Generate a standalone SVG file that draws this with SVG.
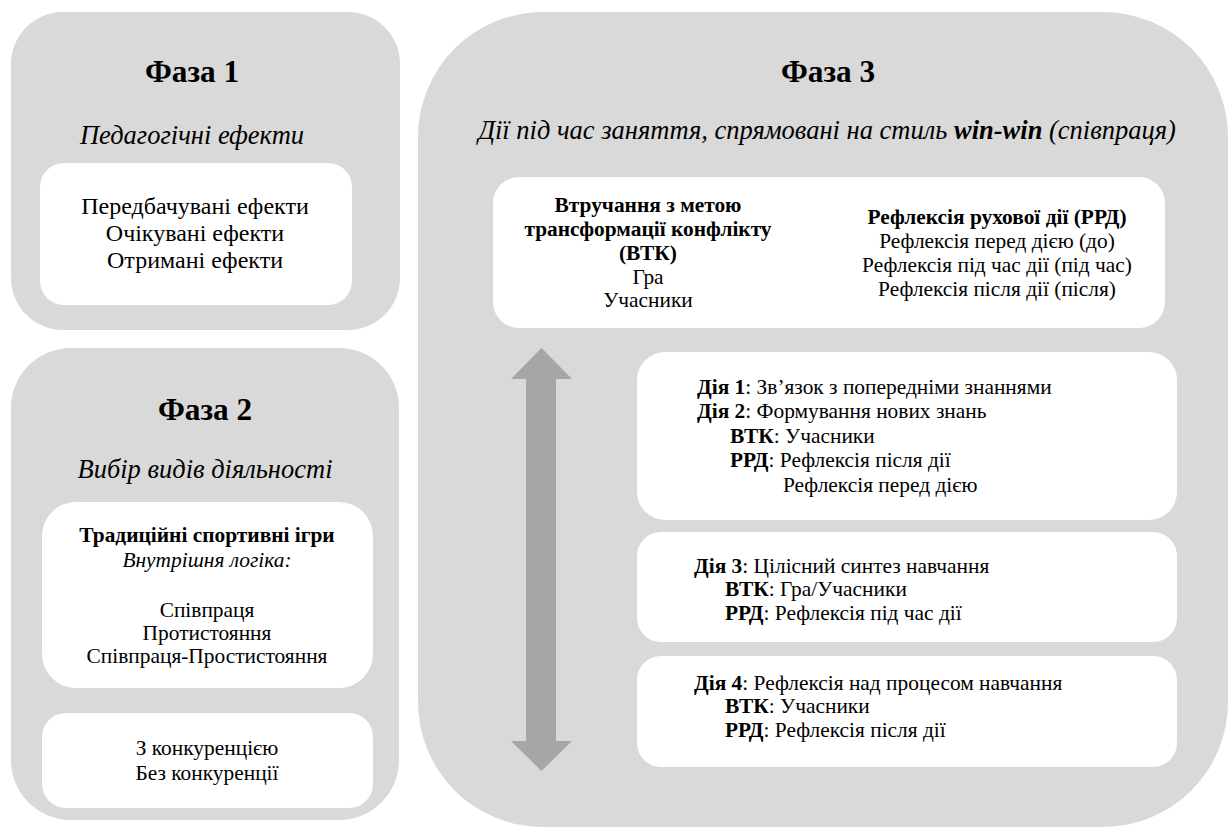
<svg xmlns="http://www.w3.org/2000/svg" width="1229" height="829" viewBox="0 0 1229 829">
<defs>
<style>
.panel{fill:#d9d9d9}
.box{fill:#ffffff}
text{fill:#000}
.title{font-size:31.3px;font-weight:bold;text-anchor:middle}
.sub{font-size:26.5px;font-style:italic;text-anchor:middle}
.c{text-anchor:middle}
.t1{font-size:24px}
.t2{font-size:21.4px}
.t3{font-size:21.4px}
.b{font-weight:bold}
.i{font-style:italic}
.arrow{fill:#a6a6a6}
</style>
</defs>
<rect width="1229" height="829" fill="#ffffff"/>
<g font-family="'Liberation Serif', 'Times New Roman', serif">
<g id="phase1">
<rect class="panel" x="11" y="12" width="389" height="318" rx="52"/>
<text class="title" x="192" y="82">Фаза 1</text>
<text class="sub" x="192" y="144">Педагогічні ефекти</text>
<g id="phase1-effects">
<rect class="box" x="40" y="163" width="312" height="142" rx="24"/>
<text class="c t1" x="195" y="214">Передбачувані ефекти</text>
<text class="c t1" x="195" y="241">Очікувані ефекти</text>
<text class="c t1" x="195" y="268">Отримані ефекти</text>
</g>
</g>

<g id="phase2">
<rect class="panel" x="11" y="348" width="388" height="472" rx="60"/>
<text class="title" x="205" y="420">Фаза 2</text>
<text class="sub" x="205" y="478">Вибір видів діяльності</text>
<g id="phase2-games">
<rect class="box" x="42" y="502" width="331" height="186" rx="34"/>
<text class="c t2 b" x="207" y="542">Традиційні спортивні ігри</text>
<text class="c t2 i" x="207" y="567">Внутрішня логіка:</text>
<text class="c t2" x="207" y="617">Співпраця</text>
<text class="c t2" x="207" y="640">Протистояння</text>
<text class="c t2" x="207" y="663">Співпраця-Простистояння</text>
</g>
<g id="phase2-competition">
<rect class="box" x="42" y="713" width="331" height="95" rx="24"/>
<text class="c t2" x="207" y="755">З конкуренцією</text>
<text class="c t2" x="207" y="780">Без конкуренції</text>
</g>
</g>

<g id="phase3">
<rect class="panel" x="418" y="12" width="810" height="815" rx="125"/>
<text class="title" x="828" y="82">Фаза 3</text>
<text class="sub" x="827" y="139">Дії під час заняття, спрямовані на стиль <tspan font-weight="bold">win-win</tspan> (співпраця)</text>

<g id="phase3-header">
<rect class="box" x="493" y="177" width="672" height="151" rx="26"/>
<text class="c t3 b" x="648" y="212">Втручання з метою</text>
<text class="c t3 b" x="648" y="236">трансформації конфлікту</text>
<text class="c t3 b" x="648" y="260">(ВТК)</text>
<text class="c t3" x="648" y="284">Гра</text>
<text class="c t3" x="648" y="307">Учасники</text>
<text class="c t3 b" x="997" y="224">Рефлексія рухової дії (РРД)</text>
<text class="c t3" x="997" y="248">Рефлексія перед дією (до)</text>
<text class="c t3" x="997" y="272">Рефлексія під час дії (під час)</text>
<text class="c t3" x="997" y="296">Рефлексія після дії (після)</text>
</g>

<g id="action12">
<rect class="box" x="637" y="352" width="540" height="168" rx="28"/>
<text class="t3" x="697" y="394"><tspan class="b">Дія 1</tspan>: Зв’язок з попередніми знаннями</text>
<text class="t3" x="697" y="418"><tspan class="b">Дія 2</tspan>: Формування нових знань</text>
<text class="t3" x="730" y="443"><tspan class="b">ВТК</tspan>: Учасники</text>
<text class="t3" x="730" y="467"><tspan class="b">РРД</tspan>: Рефлексія після дії</text>
<text class="t3" x="783" y="492">Рефлексія перед дією</text>
</g>

<g id="action3">
<rect class="box" x="637" y="532" width="540" height="110" rx="24"/>
<text class="t3" x="694" y="573"><tspan class="b">Дія 3</tspan>: Цілісний синтез навчання</text>
<text class="t3" x="725" y="596"><tspan class="b">ВТК</tspan>: Гра/Учасники</text>
<text class="t3" x="725" y="620"><tspan class="b">РРД</tspan>: Рефлексія під час дії</text>
</g>

<g id="action4">
<rect class="box" x="637" y="656" width="540" height="111" rx="24"/>
<text class="t3" x="694" y="690"><tspan class="b">Дія 4</tspan>: Рефлексія над процесом навчання</text>
<text class="t3" x="725" y="713"><tspan class="b">ВТК</tspan>: Учасники</text>
<text class="t3" x="725" y="737"><tspan class="b">РРД</tspan>: Рефлексія після дії</text>
</g>
</g>
</g>
<g id="connectors">
<polygon class="arrow" points="541.5,348 572,379 556,379 556,741 572,741 541.5,771 511,741 526,741 526,379 511,379"/>
</g>
</svg>
